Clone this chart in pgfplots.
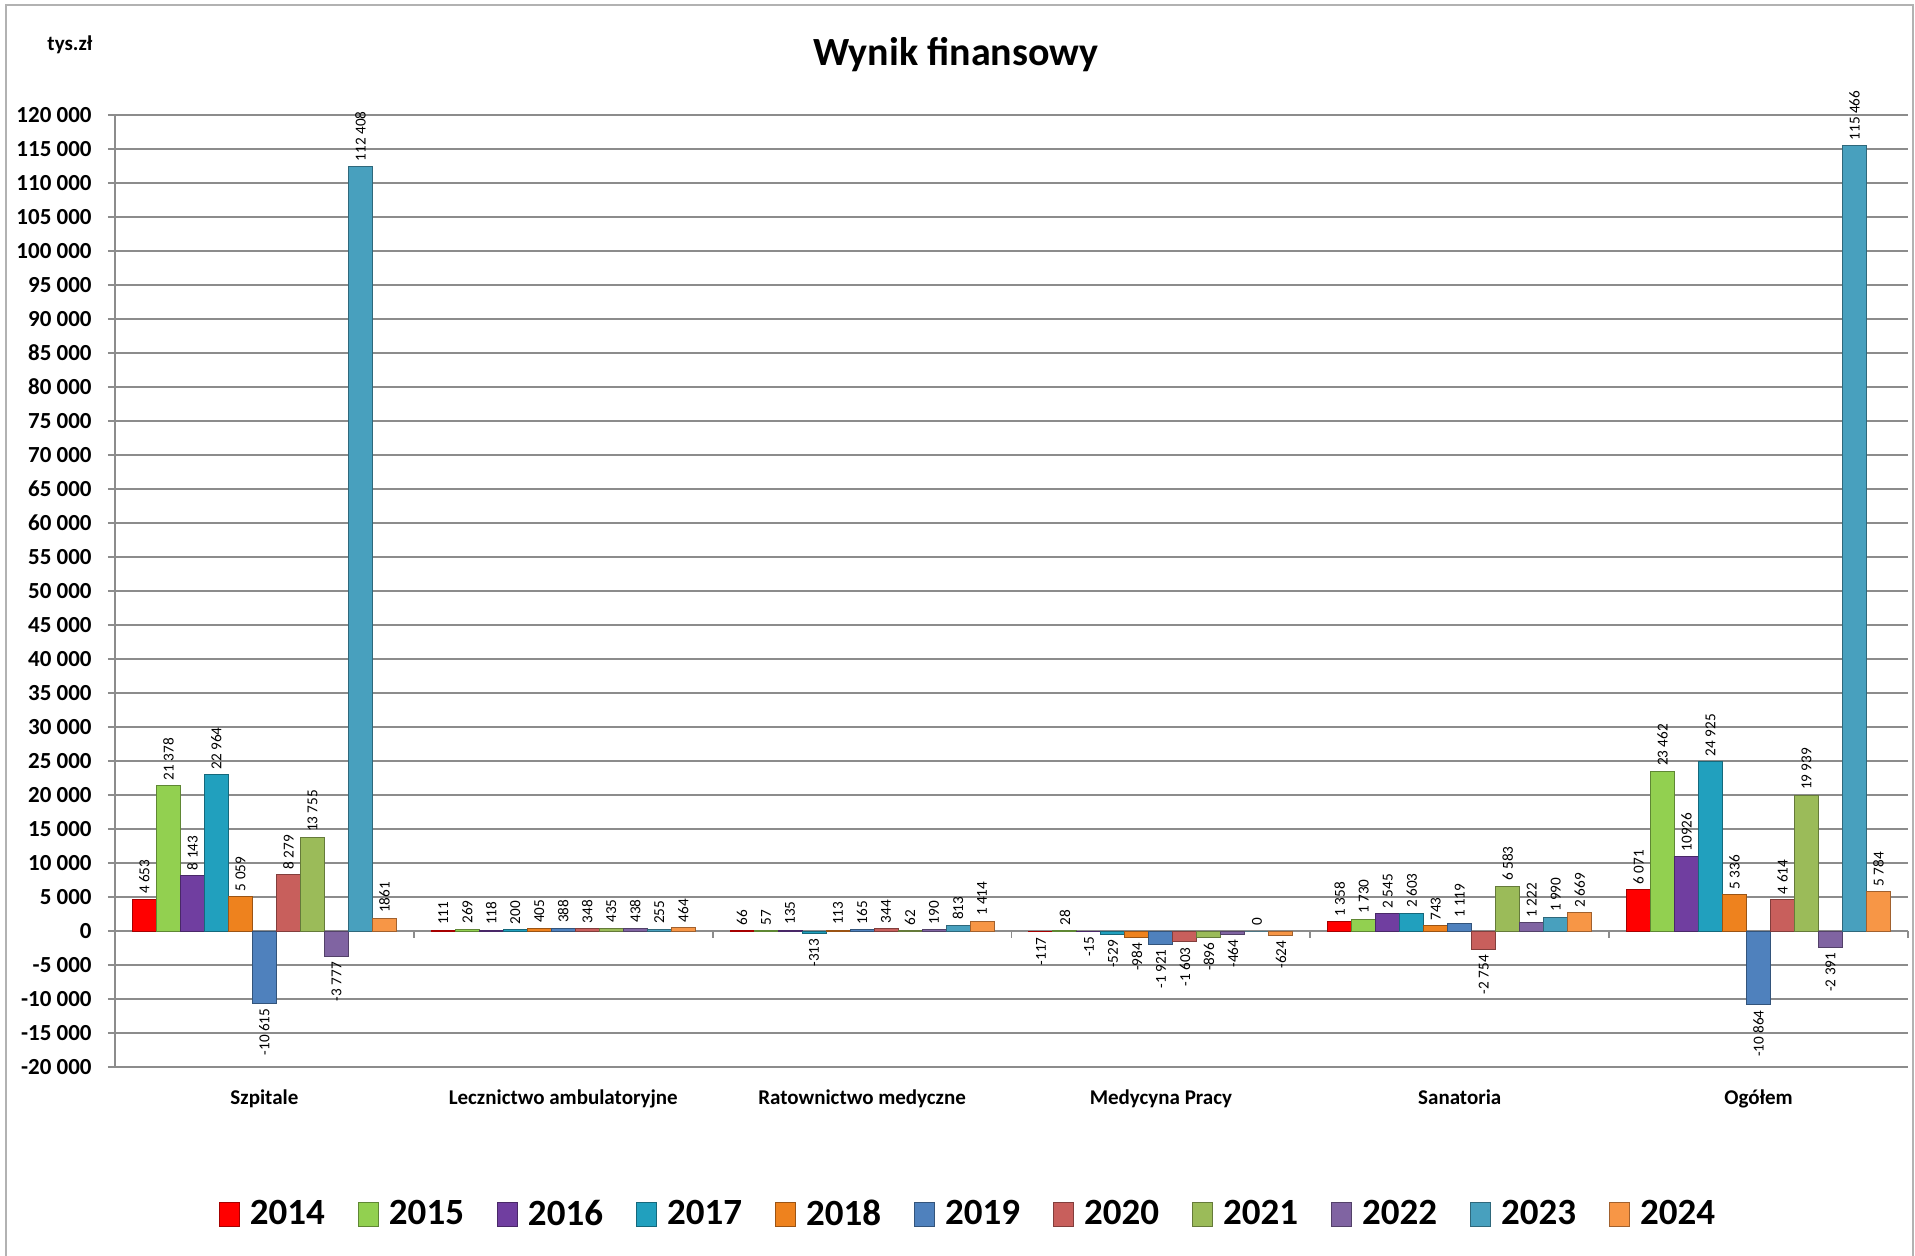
\documentclass[border=0pt]{standalone}
\usepackage{pgfplots}
\pgfplotsset{compat=1.18}
\usepackage{fontspec}
\setmainfont{Carlito}
\definecolor{c1}{RGB}{255,0,0}
\definecolor{c2}{RGB}{146,208,80}
\definecolor{c3}{RGB}{112,62,160}
\definecolor{c4}{RGB}{33,160,190}
\definecolor{c5}{RGB}{238,130,30}
\definecolor{c6}{RGB}{79,129,189}
\definecolor{c7}{RGB}{200,95,92}
\definecolor{c8}{RGB}{155,187,89}
\definecolor{c9}{RGB}{128,100,162}
\definecolor{c10}{RGB}{72,160,190}
\definecolor{c11}{RGB}{247,150,70}
\definecolor{gridgray}{RGB}{140,140,140}
\makeatletter
\def\my@first#1#2\@nil{#1}
\pgfkeys{/tikz/signanchor/.code={%
  \edef\my@meta{\pgfplotspointmeta}%
  \edef\my@fc{\expandafter\my@first\my@meta\@nil}%
  \if-\my@fc\pgfkeysalso{anchor=east}\else\pgfkeysalso{anchor=west}\fi}}
\makeatother
\begin{document}
\begin{tikzpicture}
\useasboundingbox (0,0) rectangle (957.5pt,627.5pt);
\draw[gray!60, line width=0.8pt] (3pt,-5pt) -- (3pt,625pt) -- (956.5pt,625pt) -- (956.5pt,-5pt);
\node[font=\bfseries\fontsize{20}{24}\selectfont] at (478pt,600pt) {Wynik finansowy};
\node[font=\bfseries\fontsize{10.5}{12}\selectfont] at (35pt,605pt) {tys.zł};
\begin{axis}[
  at={(57.5pt,94pt)}, anchor=south west,
  scale only axis, width=896.5pt, height=476pt,
  xmin=-0.5, xmax=5.5, ymin=-20000, ymax=120000,
  ybar=0pt, bar width=12pt,
  clip=false,
  axis line style={draw=none},
  ymajorgrids, grid style={gridgray, line width=0.9pt},
  ytick={-20000,-15000,-10000,-5000,0,5000,10000,15000,20000,25000,30000,35000,40000,45000,50000,55000,60000,65000,70000,75000,80000,85000,90000,95000,100000,105000,110000,115000,120000},
  yticklabels={-20 000,-15 000,-10 000,-5 000,0,5 000,10 000,15 000,20 000,25 000,30 000,35 000,40 000,45 000,50 000,55 000,60 000,65 000,70 000,75 000,80 000,85 000,90 000,95 000,100 000,105 000,110 000,115 000,120 000},
  scaled y ticks=false,
  ytick pos=left, tick align=outside, major tick length=3.5pt,
  ytick style={gridgray, line width=0.9pt},
  yticklabel style={font=\bfseries\fontsize{11.5}{13}\selectfont, inner sep=0pt, anchor=east, xshift=-8pt},
  xtick={0,...,5},
  xticklabels={Szpitale, Lecznictwo ambulatoryjne, Ratownictwo medyczne, Medycyna Pracy, Sanatoria, Ogółem},
  xtick style={draw=none},
  xticklabel style={font=\bfseries\fontsize{10.5}{12}\selectfont, anchor=base, inner sep=0pt, yshift=-15pt},
  point meta=explicit symbolic,
  nodes near coords={\pgfplotspointmeta},
  every node near coord/.append style={rotate=90, font=\fontsize{7.6}{9}\selectfont, inner sep=2.5pt, text=black, signanchor},
  legend image code/.code={\draw[#1] (0pt,-6pt) rectangle (10pt,6pt);},
  legend columns=11,
  legend style={at={(0.4752,-0.1544)}, anchor=center, draw=none, fill=none,
    font=\bfseries\fontsize{18.5}{22}\selectfont, nodes={inner sep=0pt},
    /tikz/every odd column/.append style={column sep=5pt},
    /tikz/every even column/.append style={column sep=16.5pt}},
]
\draw[gridgray, line width=0.9pt] (rel axis cs:0,0) -- (rel axis cs:0,1);
\draw[gridgray, line width=0.9pt] (axis cs:-0.5,0) -- (axis cs:5.5,0);
\pgfplotsinvokeforeach{-0.5,0.5,...,5.5}{\draw[gridgray, line width=0.9pt] (axis cs:#1,0) -- ([yshift=-3.5pt]axis cs:#1,0);}
\addplot[fill=c1, draw=c1!65!black, line width=0.5pt] coordinates {(0,4653)[4 653] (1,111)[111] (2,66)[66] (3,-117)[-117] (4,1358)[1 358] (5,6071)[6 071]};
\addplot[fill=c2, draw=c2!65!black, line width=0.5pt] coordinates {(0,21378)[21 378] (1,269)[269] (2,57)[57] (3,28)[28] (4,1730)[1 730] (5,23462)[23 462]};
\addplot[fill=c3, draw=c3!65!black, line width=0.5pt] coordinates {(0,8143)[8 143] (1,118)[118] (2,135)[135] (3,-15)[-15] (4,2545)[2 545] (5,10926)[10926]};
\addplot[fill=c4, draw=c4!65!black, line width=0.5pt] coordinates {(0,22964)[22 964] (1,200)[200] (2,-313)[-313] (3,-529)[-529] (4,2603)[2 603] (5,24925)[24 925]};
\addplot[fill=c5, draw=c5!65!black, line width=0.5pt] coordinates {(0,5059)[5 059] (1,405)[405] (2,113)[113] (3,-984)[-984] (4,743)[743] (5,5336)[5 336]};
\addplot[fill=c6, draw=c6!65!black, line width=0.5pt] coordinates {(0,-10615)[-10 615] (1,388)[388] (2,165)[165] (3,-1921)[-1 921] (4,1119)[1 119] (5,-10864)[-10 864]};
\addplot[fill=c7, draw=c7!65!black, line width=0.5pt] coordinates {(0,8279)[8 279] (1,348)[348] (2,344)[344] (3,-1603)[-1 603] (4,-2754)[-2 754] (5,4614)[4 614]};
\addplot[fill=c8, draw=c8!65!black, line width=0.5pt] coordinates {(0,13755)[13 755] (1,435)[435] (2,62)[62] (3,-896)[-896] (4,6583)[6 583] (5,19939)[19 939]};
\addplot[fill=c9, draw=c9!65!black, line width=0.5pt] coordinates {(0,-3777)[-3 777] (1,438)[438] (2,190)[190] (3,-464)[-464] (4,1222)[1 222] (5,-2391)[-2 391]};
\addplot[fill=c10, draw=c10!65!black, line width=0.5pt] coordinates {(0,112408)[112 408] (1,255)[255] (2,813)[813] (3,0)[0] (4,1990)[1 990] (5,115466)[115 466]};
\addplot[fill=c11, draw=c11!65!black, line width=0.5pt] coordinates {(0,1861)[1861] (1,464)[464] (2,1414)[1 414] (3,-624)[-624] (4,2669)[2 669] (5,5784)[5 784]};
\legend{2014,2015,2016,2017,2018,2019,2020,2021,2022,2023,2024}
\end{axis}
\end{tikzpicture}
\end{document}
